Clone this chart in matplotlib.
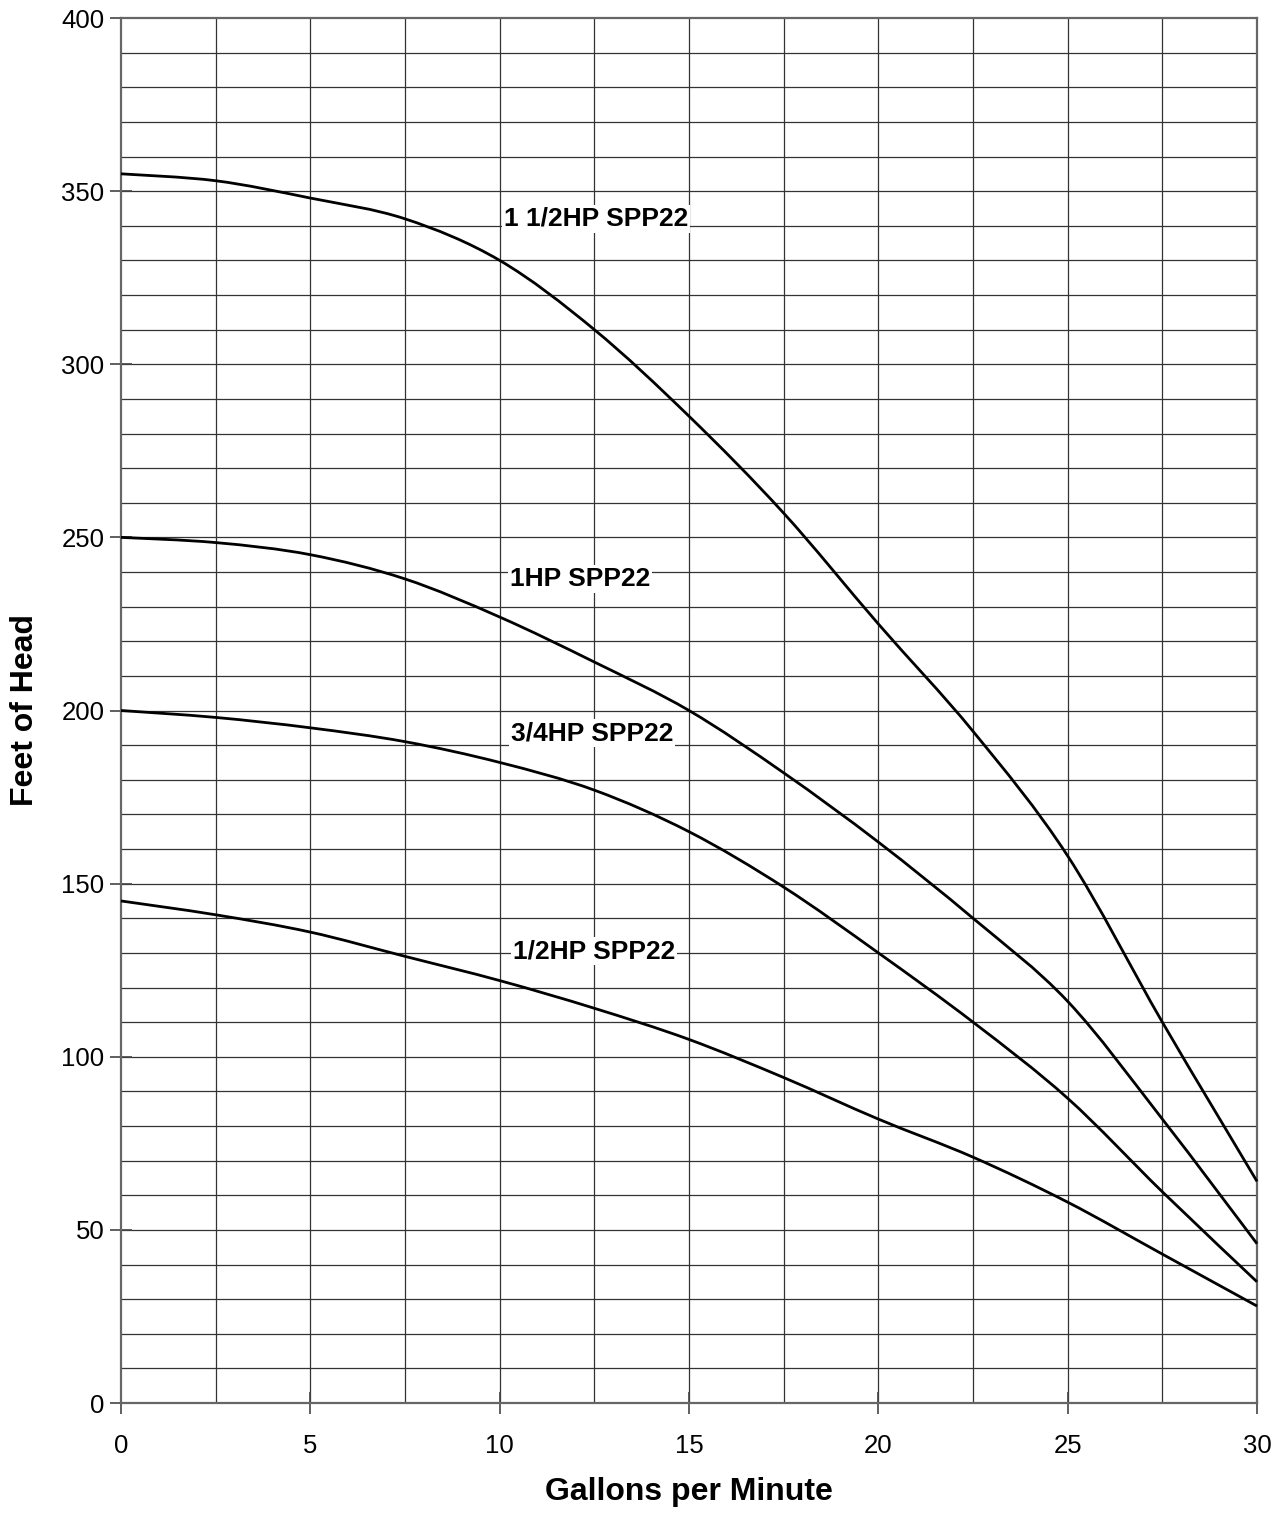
import matplotlib
matplotlib.use("Agg")
import matplotlib.pyplot as plt
from matplotlib.path import Path
from matplotlib.patches import PathPatch
import numpy as np

plt.rcParams["font.family"] = ["Liberation Sans", "DejaVu Sans"]

# pump curves (gpm vs feet of head)
gpm = [0, 2.5, 5, 7.5, 10, 12.5, 15, 17.5, 20, 22.5, 25, 27.5, 30]
head_1_5hp = [355, 353, 348, 342, 330, 310, 285, 257, 225, 194, 158, 110, 64]
head_1hp = [250, 248.5, 245, 238, 227, 214, 200, 182, 162, 140, 116, 82, 46]
head_3_4hp = [200, 198, 195, 191, 185, 177, 165, 149, 130, 110, 88, 61, 35]
head_1_2hp = [145, 141, 136, 129, 122, 114, 105, 94, 82, 71, 58, 43, 28]

labels = ["1 1/2HP SPP22", "1HP SPP22", "3/4HP SPP22", "1/2HP SPP22"]
label_x = [12.54, 12.12, 12.44, 12.49]
label_y = [342, 238, 193.5, 130.5]


def smooth_path(xs, ys):
    # excel-style smoothed line: cubic bezier segments through the points
    p = np.column_stack([xs, ys]).astype(float)
    verts = [p[0]]
    codes = [Path.MOVETO]
    n = len(p)
    for i in range(n - 1):
        p0 = p[i - 1] if i > 0 else p[i]
        p3 = p[i + 2] if i + 2 < n else p[i + 1]
        c1 = p[i] + (p[i + 1] - p0) / 6
        c2 = p[i + 1] - (p3 - p[i]) / 6
        verts += [c1, c2, p[i + 1]]
        codes += [Path.CURVE4] * 3
    return Path(verts, codes)


fig = plt.figure(figsize=(12.87, 15.13), dpi=100)
ax = fig.add_axes([0.094, 0.0727, 0.8827, 0.9154])

# grid: vertical every 2.5 gpm, horizontal every 10 ft
for x in np.arange(2.5, 30, 2.5):
    ax.axvline(x, color="#333333", lw=0.9, zorder=1)
for y in np.arange(10, 400, 10):
    ax.axhline(y, color="#333333", lw=0.9, zorder=1)

for h in [head_1_5hp, head_1hp, head_3_4hp, head_1_2hp]:
    ax.add_patch(PathPatch(smooth_path(gpm, h), facecolor="none",
                           edgecolor="black", lw=2.0, zorder=3, clip_on=False))

for t, x, y in zip(labels, label_x, label_y):
    ax.text(x, y, t, ha="center", va="center", fontsize=19, fontweight="bold",
            bbox=dict(facecolor="white", edgecolor="none", pad=1.5), zorder=4)

ax.set_xlim(0, 30)
ax.set_ylim(0, 400)
ax.set_xticks(np.arange(0, 31, 5))
ax.set_yticks(np.arange(0, 401, 50))
ax.tick_params(axis="both", direction="inout", length=16, width=1.2,
               labelsize=18.5, color="#444444")
ax.tick_params(axis="x", pad=14)
ax.tick_params(axis="y", pad=4)
for s in ax.spines.values():
    s.set_color("#666666")
    s.set_linewidth(1.6)

ax.set_xlabel("Gallons per Minute", fontsize=23, fontweight="bold")
ax.set_ylabel("Feet of Head", fontsize=23, fontweight="bold")
ax.xaxis.set_label_coords(0.5, -0.064)
ax.yaxis.set_label_coords(-0.0845, 0.5)
ax.yaxis.label.set_va("center")
ax.xaxis.label.set_va("center")

fig.savefig("out.png", dpi=100)
